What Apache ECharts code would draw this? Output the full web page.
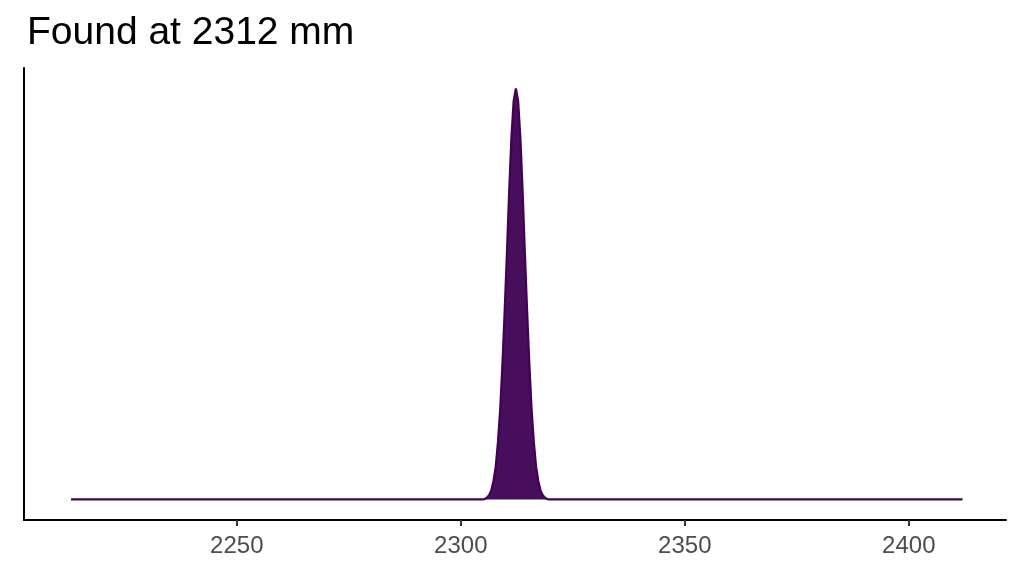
<!DOCTYPE html>
<html>
<head>
<meta charset="utf-8">
<title>Found at 2312 mm</title>
<script src="https://cdn.jsdelivr.net/npm/echarts@6/dist/echarts.min.js"></script>
<style>
  html, body { margin: 0; padding: 0; background: #fff; }
  #main { width: 1024px; height: 576px; }
</style>
</head>
<body>
<div id="main"></div>
<script>
// position (mm) and relative density
var positions = [2213, 2304.8, 2305.3, 2305.8, 2306.3, 2306.8, 2307.3, 2307.8, 2308.3, 2308.8,
  2309.3, 2309.8, 2310.3, 2310.8, 2311.3, 2311.8, 2312.3, 2312.8, 2313.3, 2313.8, 2314.3, 2314.8,
  2315.3, 2315.8, 2316.3, 2316.8, 2317.3, 2317.8, 2318.3, 2318.8, 2319.3, 2319.8, 2412];
var density = [0, 0, 0.001, 0.004, 0.01, 0.022, 0.045, 0.08, 0.14, 0.22,
  0.33, 0.46, 0.60, 0.75, 0.88, 0.97, 1.00, 0.97, 0.88, 0.75, 0.60, 0.46,
  0.33, 0.22, 0.14, 0.08, 0.045, 0.022, 0.01, 0.004, 0.001, 0, 0];
var tickValues = [2250, 2300, 2350, 2400];

var points = positions.map(function (p, i) { return [p, density[i]]; });

var myChart = echarts.init(document.getElementById('main'));

var option = {
  animation: false,
  title: {
    text: 'Found at 2312 mm',
    left: 22,
    top: 9,
    textStyle: { fontFamily: 'Liberation Sans', fontSize: 39, fontWeight: 'normal', color: '#000' }
  },
  grid: { left: 24, right: 18, top: 68, bottom: 56 },
  xAxis: {
    type: 'value',
    min: 2202.5,
    max: 2421.7,
    axisLine: { show: true, onZero: false, lineStyle: { color: '#000', width: 2 } },
    axisTick: { show: true, length: 6, customValues: tickValues, lineStyle: { color: '#333', width: 2 } },
    axisLabel: {
      customValues: tickValues,
      formatter: function (v) { return String(v); },
      color: '#4d4d4d', fontSize: 24, fontFamily: 'Liberation Sans', margin: 14
    },
    splitLine: { show: false }
  },
  yAxis: {
    type: 'value',
    min: -0.05,
    max: 1.05,
    axisLine: { show: true, onZero: false, lineStyle: { color: '#000', width: 2 } },
    axisTick: { show: false },
    axisLabel: { show: false },
    splitLine: { show: false }
  },
  series: [{
    type: 'line',
    data: points,
    showSymbol: false,
    lineStyle: { color: '#440154', width: 2.2 },
    areaStyle: { color: '#470e5c', opacity: 1, origin: 0 }
  }]
};

myChart.setOption(option);
</script>
</body>
</html>
